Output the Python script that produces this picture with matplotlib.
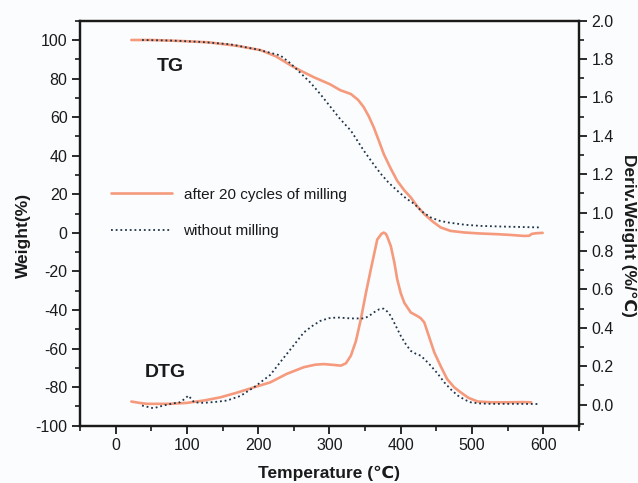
import matplotlib
matplotlib.use("Agg")
import matplotlib.pyplot as plt
from matplotlib.ticker import MultipleLocator

plt.rcParams['font.family'] = ['Liberation Sans', 'DejaVu Sans']
plt.rcParams['axes.unicode_minus'] = False

# ---- data ----
tg_milled_T = [22, 50, 91, 130, 170, 203, 225, 245, 260, 278, 301, 315, 330, 340, 348, 355, 362,
               369, 376, 385, 395, 405, 414, 423, 433, 445, 456, 470, 489, 510, 536, 555, 573,
               580, 584, 590, 599]
tg_milled_W = [100, 100, 99.5, 98.8, 97, 94.8, 91.5, 87, 84, 80.7, 77, 74, 72, 69, 65.2, 60.5, 54.8,
               48, 41, 34, 27, 22, 18.4, 13.8, 9.7, 5.8, 2.8, 1, 0.2, -0.3, -0.7, -1.1, -1.6,
               -1.5, -0.5, -0.2, 0]

tg_raw_T = [37, 80, 120, 160, 200, 231, 245, 259, 273, 287, 301, 315, 330, 348, 360, 372, 383,
            395, 407, 419, 430, 442, 454, 466, 490, 512, 550, 597]
tg_raw_W = [100, 99.7, 99, 97.8, 95, 92, 88, 83, 78, 72, 65.5, 59, 53, 42.7, 36.5, 30.6, 26,
            21.9, 18, 15, 11, 8, 6.3, 5.4, 4.2, 3.6, 3.2, 2.8]

dtg_milled_T = [22, 35, 44, 76, 100, 125, 147, 170, 194, 217, 240, 264, 280, 292, 305, 316, 323,
                330, 337, 344, 351, 358, 367, 373, 376, 379, 381, 386, 391, 395, 400, 405, 414, 423, 428,
                433, 440, 447, 456, 465, 475, 484, 495, 508, 527, 550, 570, 583]
dtg_milled_D = [0.016, 0.008, 0.004, 0.004, 0.009, 0.022, 0.038, 0.062, 0.09, 0.116, 0.16, 0.195,
                0.208, 0.211, 0.207, 0.203, 0.215, 0.255, 0.33, 0.445, 0.58, 0.705, 0.86, 0.89, 0.896,
                0.89, 0.875, 0.826, 0.74, 0.653, 0.58, 0.53, 0.48, 0.462, 0.45, 0.428, 0.35, 0.272, 0.2,
                0.133, 0.09, 0.064, 0.035, 0.016, 0.012, 0.012, 0.013, 0.012]

dtg_raw_T = [37, 53, 67, 80, 90, 97, 102, 106, 110, 123, 140, 156, 175, 194, 217, 236, 250, 264,
             276, 287, 299, 311, 330, 348, 355, 362, 370, 376, 381, 386, 393, 400, 407, 414, 421,
             428, 435, 442, 452, 461, 470, 480, 490, 498, 510, 527, 560, 595]
dtg_raw_D = [-0.005, -0.019, -0.005, 0.006, 0.012, 0.03, 0.047, 0.03, 0.012, 0.009, 0.014, 0.021,
             0.045, 0.09, 0.155, 0.245, 0.31, 0.376, 0.41, 0.436, 0.45, 0.454, 0.449, 0.449, 0.46,
             0.48, 0.497, 0.50, 0.485, 0.462, 0.41, 0.358, 0.315, 0.28, 0.265, 0.255, 0.23, 0.203,
             0.16, 0.116, 0.08, 0.047, 0.025, 0.012, 0.006, 0.004, 0.004, 0.003]

labels = ["after 20 cycles of milling", "without milling"]

orange = '#f59a7c'
navy = '#1f3347'
ink = '#1a1a1a'
bg = '#fbfcfe'

fig = plt.figure(figsize=(6.38, 4.83), dpi=100, facecolor=bg)
ax = fig.add_axes([0.1254, 0.1186, 0.7821, 0.8385], facecolor=bg)
ax2 = ax.twinx()

l1, = ax.plot(tg_milled_T, tg_milled_W, color=orange, lw=1.9, solid_capstyle='round')
l2, = ax.plot(tg_raw_T, tg_raw_W, color=navy, lw=1.3, linestyle=(0, (1, 1.6)))
ax2.plot(dtg_milled_T, dtg_milled_D, color=orange, lw=1.9, solid_capstyle='round')
ax2.plot(dtg_raw_T, dtg_raw_D, color=navy, lw=1.3, linestyle=(0, (1, 1.6)))

ax.set_xlim(-50, 650)
ax.set_ylim(-100, 110)
ax2.set_ylim(-0.11, 2.0)

ax.xaxis.set_major_locator(MultipleLocator(100))
ax.xaxis.set_minor_locator(MultipleLocator(50))
ax.yaxis.set_major_locator(MultipleLocator(20))
ax.yaxis.set_minor_locator(MultipleLocator(10))
ax2.yaxis.set_major_locator(MultipleLocator(0.2))
ax2.yaxis.set_minor_locator(MultipleLocator(0.1))
ax2.yaxis.set_major_formatter(plt.FuncFormatter(lambda v, p: f"{v:.1f}"))

for a in (ax, ax2):
    for s in a.spines.values():
        s.set_color(ink)
        s.set_linewidth(1.6)
    a.tick_params(which='major', direction='out', length=6, width=1.3, color=ink,
                  labelsize=11.5, labelcolor=ink, pad=3)
    a.tick_params(which='minor', direction='out', length=3.5, width=1.2, color=ink)

ax.tick_params(axis='y', which='both', right=False)
ax.tick_params(axis='x', which='both', top=False)

ax.set_xlabel("Temperature (℃)", fontsize=12.5, fontweight='bold', color=ink)
ax.set_ylabel("Weight(%)", fontsize=12.5, fontweight='bold', color=ink)
ax2.set_ylabel("Deriv.Weight (%/℃)", fontsize=12.5, fontweight='bold', color=ink,
               rotation=270, va='bottom')
ax.xaxis.set_label_coords(0.5, -0.10)
ax.yaxis.set_label_coords(-0.098, 0.47)
ax2.yaxis.set_label_coords(1.085, 0.47)

ax.text(76, 86.5, "TG", fontsize=14, fontweight='bold', ha='center', va='center', color=ink)
ax.text(69, -72.4, "DTG", fontsize=14, fontweight='bold', ha='center', va='center', color=ink)

leg = ax.legend([l1, l2], labels, loc='upper left', bbox_to_anchor=(0.062, 0.588),
                frameon=False, fontsize=11, handlelength=4.0, labelspacing=1.5,
                borderpad=0, borderaxespad=0, handletextpad=0.75)
for t in leg.get_texts():
    t.set_color(ink)

fig.savefig("out.png", dpi=100, facecolor=bg)
